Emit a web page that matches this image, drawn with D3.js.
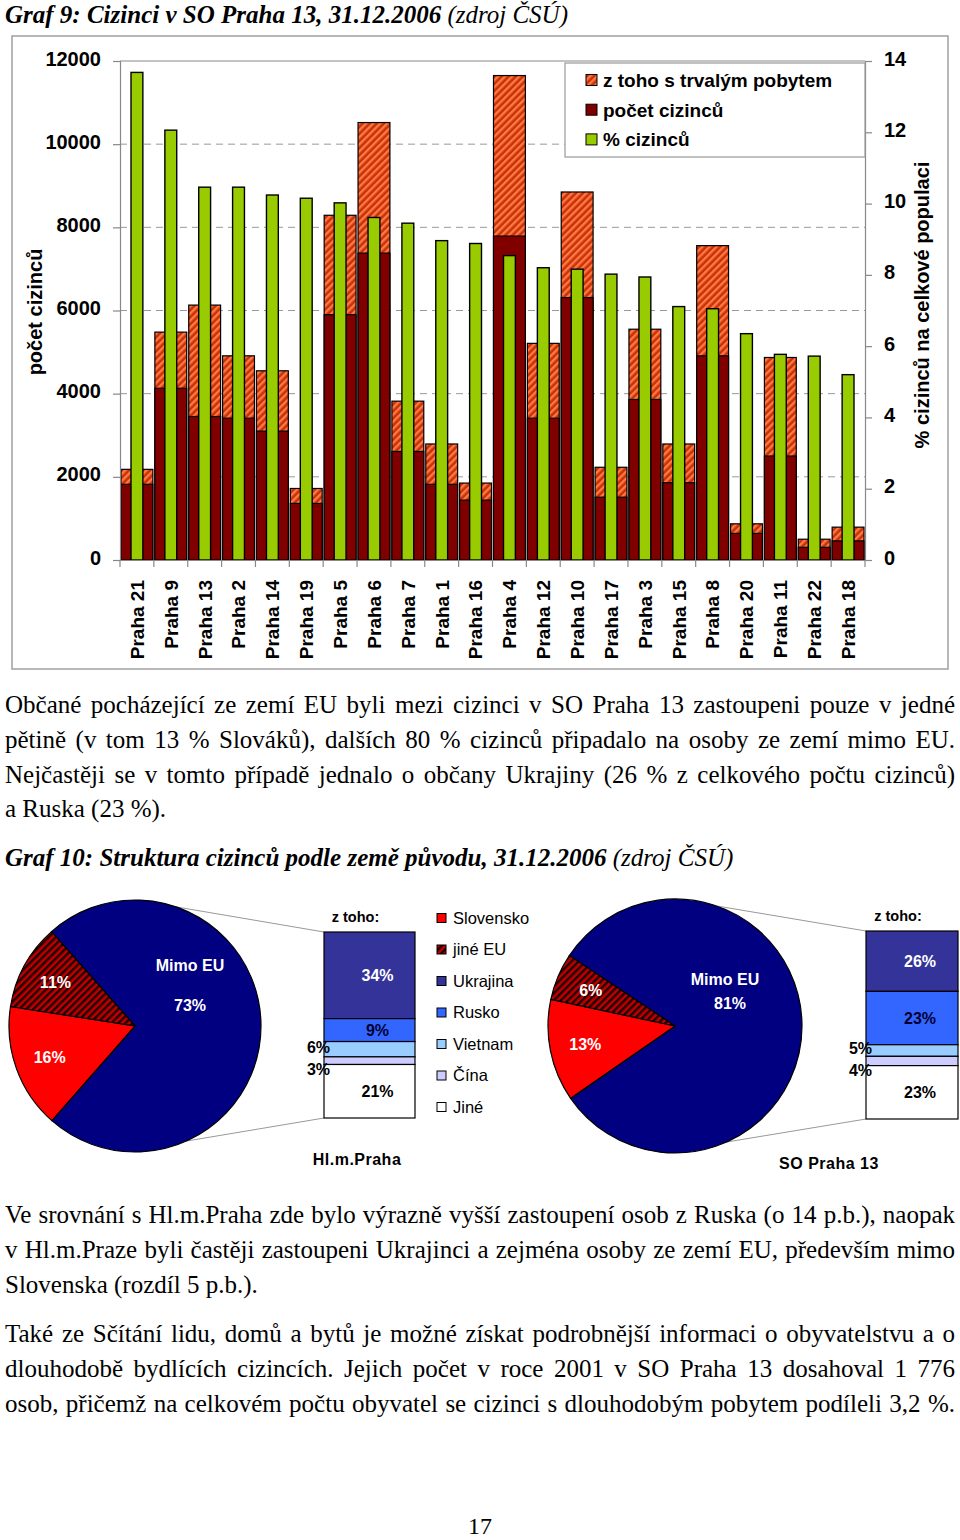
<!DOCTYPE html>
<html>
<head>
<meta charset="utf-8">
<script src="https://cdn.jsdelivr.net/npm/d3@7"></script>
<style>
  body { margin: 0; background: #fff; }
  svg text { font-family: "Liberation Sans", Arial, sans-serif; }
</style>
</head>
<body>
<svg id="page" width="960" height="1540"></svg>
<script>
// ---- Graf 9 data ----
var districts = ["Praha 21", "Praha 9", "Praha 13", "Praha 2", "Praha 14", "Praha 19", "Praha 5", "Praha 6",
    "Praha 7", "Praha 1", "Praha 16", "Praha 4", "Praha 12", "Praha 10", "Praha 17", "Praha 3", "Praha 15",
    "Praha 8", "Praha 20", "Praha 11", "Praha 22", "Praha 18"];
// top of the hatched bar
var foreignersTotal = [2180, 5480, 6130, 4910, 4550, 1720, 8290, 10520, 3820, 2790, 1850, 11650,
    5210, 8850, 2230, 5550, 2790, 7560, 870, 4870, 500, 790];
// top of the dark red part
var foreignersLower = [1820, 4130, 3450, 3410, 3100, 1360, 5900, 7380, 2610, 1820, 1440, 7790,
    3410, 6310, 1510, 3860, 1860, 4910, 640, 2500, 305, 460];
// % of foreigners in population (right axis)
var foreignersPct = [13.68, 12.06, 10.46, 10.46, 10.24, 10.15, 10.02, 9.61, 9.45, 8.96, 8.88, 8.54,
    8.20, 8.16, 8.02, 7.94, 7.11, 7.05, 6.35, 5.77, 5.72, 5.20];
var countTicks = [0, 2000, 4000, 6000, 8000, 10000, 12000];
var pctTicks = [0, 2, 4, 6, 8, 10, 12, 14];
var barLegend = ["z toho s trvalým pobytem", "počet cizinců", "% cizinců"];

// ---- Graf 10 data ----
var pieNames = ["Mimo EU", "Slovensko", "jiné EU"];
var prahaPie = [73, 16, 11];
var p13Pie = [81, 13, 6];
var stackNames = ["Ukrajina", "Rusko", "Vietnam", "Čína", "Jiné"];
var prahaStack = [34, 9, 6, 3, 21];
var p13Stack = [26, 23, 5, 4, 23];
var originLegend = ["Slovensko", "jiné EU", "Ukrajina", "Rusko", "Vietnam", "Čína", "Jiné"];

// ---- text of the page ----
var title9 = ["Graf 9: Cizinci v SO Praha 13, 31.12.2006 ", "(zdroj ČSÚ)"];
var title10 = ["Graf 10: Struktura cizinců podle země původu, 31.12.2006 ", "(zdroj ČSÚ)"];
var para1 = [
    "Občané pocházející ze zemí EU byli mezi cizinci v SO Praha 13 zastoupeni pouze v jedné",
    "pětině (v tom 13 % Slováků), dalších 80 % cizinců připadalo na osoby ze zemí mimo EU.",
    "Nejčastěji se v tomto případě jednalo o občany Ukrajiny (26 % z celkového počtu cizinců)",
    "a Ruska (23 %)."];
var para2 = [
    "Ve srovnání s Hl.m.Praha zde bylo výrazně vyšší zastoupení osob z Ruska (o 14 p.b.), naopak",
    "v Hl.m.Praze byli častěji zastoupeni Ukrajinci a zejména osoby ze zemí EU, především mimo",
    "Slovenska (rozdíl 5 p.b.)."];
var para3 = [
    "Také ze Sčítání lidu, domů a bytů je možné získat podrobnější informaci o obyvatelstvu a o",
    "dlouhodobě bydlících cizincích. Jejich počet v roce 2001 v SO Praha 13 dosahoval 1 776",
    "osob, přičemž na celkovém počtu obyvatel se cizinci s dlouhodobým pobytem podíleli 3,2 %."];
var pageNumber = "17";

var svg = d3.select("#page");
var defs = svg.append("defs");

// hatch patterns
function addHatch(id, bg, stripe) {
    var p = defs.append("pattern").attr("id", id)
        .attr("patternUnits", "userSpaceOnUse")
        .attr("width", 5).attr("height", 5)
        .attr("patternTransform", "rotate(45)");
    p.append("rect").attr("width", 5).attr("height", 5).attr("fill", bg);
    p.append("rect").attr("width", 2.4).attr("height", 5).attr("fill", stripe);
}
addHatch("hatchBar", "#C8300E", "#FF7A3D");
addHatch("hatchPie", "#C00000", "#200000");

var serif = "'Liberation Serif', 'Times New Roman', serif";
var bodySize = 25;

// justify a line by word spacing
function justify(sel, target) {
    var len = sel.node().getComputedTextLength();
    var spaces = (sel.text().match(/ /g) || []).length;
    if (spaces > 0 && len > target * 0.8) sel.attr("word-spacing", (target - len) / spaces);
}

function drawTitle(parts, y) {
    var t = svg.append("text").attr("x", 5).attr("y", y)
        .style("font-family", serif).attr("font-size", bodySize).attr("font-style", "italic");
    t.append("tspan").attr("font-weight", "bold").text(parts[0]);
    t.append("tspan").text(parts[1]);
}

function drawParagraph(lines, y0) {
    lines.forEach(function(line, i) {
        var t = svg.append("text").attr("x", 5).attr("y", y0 + i * 34.8)
            .style("font-family", serif).attr("font-size", bodySize).text(line);
        if (i < lines.length - 1 || line.length > 80) justify(t, 950);
    });
}

drawTitle(title9, 23);

// ================= Graf 9 =================
var plot = { left: 120, right: 865, top: 61, bottom: 560 };
var x = d3.scaleBand().domain(districts).range([plot.left, plot.right]);
var yCount = d3.scaleLinear().domain([0, 12000]).range([plot.bottom, plot.top]);
var yPct = d3.scaleLinear().domain([0, 14]).range([plot.bottom, plot.top]);
var bw = x.bandwidth();

// outer chart frame
svg.append("rect").attr("x", 12).attr("y", 36).attr("width", 936).attr("height", 633)
    .attr("fill", "none").attr("stroke", "#a0a0a0").attr("stroke-width", 1.5);

// dashed gridlines
svg.append("g").selectAll("line")
    .data(countTicks.slice(1, -1))
    .enter().append("line")
    .attr("x1", plot.left).attr("x2", plot.right)
    .attr("y1", function(d) { return yCount(d); })
    .attr("y2", function(d) { return yCount(d); })
    .attr("stroke", "#9a9a9a").attr("stroke-dasharray", "7,5");
// top border of plot area
svg.append("line").attr("x1", plot.left).attr("x2", plot.right)
    .attr("y1", yCount(12000)).attr("y2", yCount(12000)).attr("stroke", "#8a8a8a").attr("stroke-width", 1.2);

// bars: hatched full height, dark red lower part, green % bar in the middle
svg.append("g").selectAll("rect")
    .data(districts)
    .enter().append("rect")
    .attr("x", function(d) { return x(d) + 1; })
    .attr("width", bw - 2)
    .attr("y", function(d, i) { return yCount(foreignersTotal[i]); })
    .attr("height", function(d, i) { return yCount(0) - yCount(foreignersTotal[i]); })
    .attr("fill", "url(#hatchBar)").attr("stroke", "#000").attr("stroke-width", 1.2);

svg.append("g").selectAll("rect")
    .data(districts)
    .enter().append("rect")
    .attr("x", function(d) { return x(d) + 1; })
    .attr("width", bw - 2)
    .attr("y", function(d, i) { return yCount(foreignersLower[i]); })
    .attr("height", function(d, i) { return yCount(0) - yCount(foreignersLower[i]); })
    .attr("fill", "#800000").attr("stroke", "#000").attr("stroke-width", 1.2);

var gw = bw * 0.35;
svg.append("g").selectAll("rect")
    .data(districts)
    .enter().append("rect")
    .attr("x", function(d) { return x(d) + bw / 2 - gw / 2; })
    .attr("width", gw)
    .attr("y", function(d, i) { return yPct(foreignersPct[i]); })
    .attr("height", function(d, i) { return yPct(0) - yPct(foreignersPct[i]); })
    .attr("fill", "#99CC00").attr("stroke", "#000").attr("stroke-width", 1.4);

function styleAxis(g) {
    g.attr("font-family", "'Liberation Sans', Arial, sans-serif");
    g.select(".domain").attr("stroke", "#888").attr("stroke-width", 1.2);
    g.selectAll(".tick line").attr("stroke", "#888").attr("stroke-width", 1.2);
    g.selectAll(".tick text").attr("font-size", 20).attr("font-weight", "bold").attr("fill", "#000");
}

// left axis
svg.append("g").attr("transform", "translate(" + plot.left + ",0)")
    .call(d3.axisLeft(yCount).tickValues(countTicks).tickSize(7).tickPadding(12).tickFormat(d3.format("d")))
    .call(styleAxis)
    .selectAll(".tick text").attr("dy", "0.2em");

// right axis
svg.append("g").attr("transform", "translate(" + plot.right + ",0)")
    .call(d3.axisRight(yPct).tickValues(pctTicks).tickSize(7).tickPadding(12))
    .call(styleAxis)
    .selectAll(".tick text").attr("dy", "0.2em");

// bottom axis with rotated labels, ticks on category boundaries
var bottom = svg.append("g").attr("transform", "translate(0," + plot.bottom + ")")
    .call(d3.axisBottom(x).tickSize(0).tickSizeOuter(0))
    .call(styleAxis);
bottom.selectAll(".tick text")
    .attr("transform", "rotate(-90)")
    .attr("x", -20).attr("y", 0).attr("dy", "0.36em")
    .attr("font-size", 19)
    .style("text-anchor", "end");
bottom.selectAll(".bound")
    .data(districts.concat(["end"]))
    .enter().append("line")
    .attr("x1", function(d) { return d == "end" ? plot.right : x(d); })
    .attr("x2", function(d) { return d == "end" ? plot.right : x(d); })
    .attr("y1", 0).attr("y2", 7)
    .attr("stroke", "#888").attr("stroke-width", 1.2);

// axis titles
svg.append("text").attr("transform", "translate(42,312) rotate(-90)")
    .attr("text-anchor", "middle").attr("font-size", 20).attr("font-weight", "bold")
    .text("počet cizinců");
svg.append("text").attr("transform", "translate(929,305) rotate(-90)")
    .attr("text-anchor", "middle").attr("font-size", 20).attr("font-weight", "bold")
    .text("% cizinců na celkové populaci");

// legend
var legend = svg.append("g");
legend.append("rect").attr("x", 565).attr("y", 63).attr("width", 300).attr("height", 94)
    .attr("fill", "#fff").attr("stroke", "#999").attr("stroke-width", 1.2);
var legendFill = ["url(#hatchBar)", "#800000", "#99CC00"];
barLegend.forEach(function(name, i) {
    var cy = 80 + i * 29.7;
    legend.append("rect").attr("x", 586).attr("y", cy - 5.5).attr("width", 11).attr("height", 11)
        .attr("fill", legendFill[i]).attr("stroke", "#000");
    legend.append("text").attr("x", 603).attr("y", cy).attr("dy", "0.36em")
        .attr("font-size", 19).attr("font-weight", "bold").text(name);
});

// ================= text =================
drawParagraph(para1, 713);
drawTitle(title10, 866);
drawParagraph(para2, 1223);
drawParagraph(para3, 1342);
svg.append("text").attr("x", 480).attr("y", 1534).attr("text-anchor", "middle")
    .style("font-family", serif).attr("font-size", 24).text(pageNumber);

// ================= Graf 10 =================
var pieFill = ["#000080", "#FF0000", "url(#hatchPie)"];
var stackFill = ["#333399", "#3366FF", "#99CCFF", "#CCCCFF", "#FFFFFF"];
var stackText = ["#fff", "#000033", "#000", "#000", "#000"];

var pies = [
    { name: "Hl.m.Praha", pie: prahaPie, stack: prahaStack, cx: 135, cy: 1026, r: 126, start: -41.5,
      sx: 324, sy: 932, sw: 91, sh: 186, tx: 357, ty: 1165, lab: [[55, -55], [55, -15]] },
    { name: "SO Praha 13", pie: p13Pie, stack: p13Stack, cx: 675, cy: 1026, r: 127, start: -56.3,
      sx: 866, sy: 931, sw: 92, sh: 188, tx: 829, ty: 1169, lab: [[50, -41], [55, -17]] }
];

pies.forEach(function(c) {
    var g = svg.append("g");
    var toRad = Math.PI / 180;

    // connector lines from the pie to the stacked column
    var a1 = 19 * toRad, a2 = 156 * toRad;
    g.append("line").attr("x1", c.cx + c.r * Math.sin(a1)).attr("y1", c.cy - c.r * Math.cos(a1))
        .attr("x2", c.sx).attr("y2", c.sy).attr("stroke", "#999");
    g.append("line").attr("x1", c.cx + c.r * Math.sin(a2)).attr("y1", c.cy - c.r * Math.cos(a2))
        .attr("x2", c.sx).attr("y2", c.sy + c.sh).attr("stroke", "#999");

    var pie = d3.pie().sort(null).startAngle(c.start * toRad).endAngle(c.start * toRad + 2 * Math.PI);
    var arcs = pie(c.pie);
    var arc = d3.arc().innerRadius(0).outerRadius(c.r);
    var labelArc = d3.arc().innerRadius(c.r * 0.72).outerRadius(c.r * 0.72);

    var pg = g.append("g").attr("transform", "translate(" + c.cx + "," + c.cy + ")");
    pg.selectAll("path").data(arcs).enter().append("path")
        .attr("d", arc)
        .attr("fill", function(d, i) { return pieFill[i]; })
        .attr("stroke", "#000").attr("stroke-width", 1.2);

    // labels of the two small slices
    pg.selectAll(".lbl").data(arcs.slice(1)).enter().append("text")
        .attr("transform", function(d) { return "translate(" + labelArc.centroid(d) + ")"; })
        .attr("text-anchor", "middle").attr("dy", "0.36em")
        .attr("font-size", 16).attr("font-weight", "bold").attr("fill", "#fff")
        .text(function(d) { return d.data + "%"; });
    // big slice label
    pg.append("text").attr("x", c.lab[0][0]).attr("y", c.lab[0][1]).attr("text-anchor", "middle")
        .attr("font-size", 16).attr("font-weight", "bold").attr("fill", "#fff").text(pieNames[0]);
    pg.append("text").attr("x", c.lab[1][0]).attr("y", c.lab[1][1]).attr("text-anchor", "middle")
        .attr("font-size", 16).attr("font-weight", "bold").attr("fill", "#fff").text(c.pie[0] + "%");

    // stacked column "z toho"
    var total = d3.sum(c.stack);
    var ys = d3.scaleLinear().domain([0, total]).range([c.sy, c.sy + c.sh]);
    var cum = 0;
    var segs = c.stack.map(function(v) { var s = { v: v, y0: cum, y1: cum + v }; cum += v; return s; });
    g.selectAll(".seg").data(segs).enter().append("rect")
        .attr("x", c.sx).attr("width", c.sw)
        .attr("y", function(d) { return ys(d.y0); })
        .attr("height", function(d) { return ys(d.y1) - ys(d.y0); })
        .attr("fill", function(d, i) { return stackFill[i]; })
        .attr("stroke", "#000").attr("stroke-width", 1.2);
    var small = 0;
    segs.forEach(function(d, i) {
        var mid = (ys(d.y0) + ys(d.y1)) / 2;
        var t = g.append("text").attr("font-size", 16).attr("font-weight", "bold").attr("dy", "0.36em");
        if (d.v < 7) {
            t.attr("x", c.sx + 6).attr("y", mid + (small == 0 ? -2 : 9)).attr("text-anchor", "end").attr("fill", "#000");
            small++;
        } else {
            t.attr("x", c.sx + c.sw / 2 + 8).attr("y", mid).attr("text-anchor", "middle").attr("fill", stackText[i]);
        }
        t.text(d.v + "%");
    });
    g.append("text").attr("x", c.sx + c.sw / 2 - 14).attr("y", c.sy - 10).attr("text-anchor", "middle")
        .attr("font-size", 14.5).attr("font-weight", "bold").text("z toho:");
    g.append("text").attr("x", c.tx).attr("y", c.ty).attr("text-anchor", "middle")
        .attr("font-size", 16).attr("font-weight", "bold").attr("letter-spacing", 0.5).text(c.name);
});

// legend between the two pies
var legendColors = ["#FF0000", "url(#hatchPie)"].concat(stackFill);
var lg = svg.append("g");
originLegend.forEach(function(name, i) {
    var cy = 918 + i * 31.5;
    lg.append("rect").attr("x", 437).attr("y", cy - 4.5).attr("width", 9).attr("height", 9)
        .attr("fill", legendColors[i]).attr("stroke", "#000");
    lg.append("text").attr("x", 453).attr("y", cy).attr("dy", "0.36em")
        .attr("font-size", 16.5).text(name);
});
</script>
</body>
</html>
